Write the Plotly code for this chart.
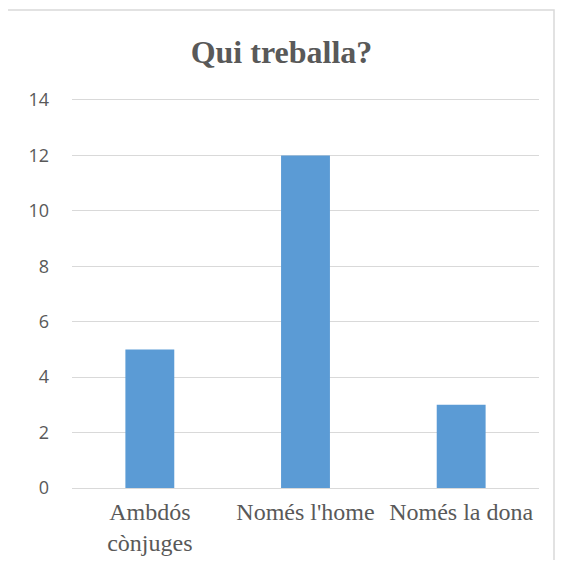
import plotly.graph_objects as go

categories = ["Ambdós<br>cònjuges", "Només l'home", "Només la dona"]
values = [5, 12, 3]
y_ticks = [0, 2, 4, 6, 8, 10, 12, 14]

bar_color = "#5B9BD5"
text_color = "#595959"
grid_color = "#D9D9D9"

# page body adds an 8px margin, so the figure is drawn 8px smaller on each side
W, H = 547, 552
L, R, T, B = 64, 16, 92, 72
pw, ph = W - L - R, H - T - B

fig = go.Figure(
    go.Bar(x=categories, y=values, marker={"color": bar_color, "line": {"width": 0}}, hoverinfo="x+y")
)

fig.update_layout(
    width=W,
    height=H,
    margin={"l": L, "r": R, "t": T, "b": B, "autoexpand": False},
    paper_bgcolor="white",
    plot_bgcolor="white",
    bargap=0.686,
    showlegend=False,
    title={
        "text": "<b>Qui treballa?</b>",
        "font": {"family": "Liberation Serif", "size": 32, "color": text_color},
        "x": 0.5,
        "xanchor": "center",
        "y": 1 - 44 / H,
        "yanchor": "middle",
    },
    xaxis={
        "showgrid": False,
        # mirrored x line gives the top gridline at 14 and the base line at 0
        "showline": True,
        "mirror": True,
        "linecolor": grid_color,
        "linewidth": 1,
        "ticks": "",
        "automargin": False,
        "tickfont": {"family": "Liberation Serif", "size": 24, "color": text_color},
        "ticklabelstandoff": 2,
    },
    yaxis={
        "range": [0, 14],
        "tickvals": y_ticks,
        "showgrid": True,
        "gridcolor": grid_color,
        "gridwidth": 1,
        "zeroline": True,
        "zerolinecolor": grid_color,
        "zerolinewidth": 1,
        "showline": False,
        "ticks": "",
        "automargin": False,
        "tickfont": {"family": "Open Sans", "size": 18, "color": text_color},
        "ticklabelstandoff": 22,
    },
    shapes=[
        {
            "type": "rect",
            "xref": "paper",
            "yref": "paper",
            "x0": (-1 - L) / pw,
            "x1": (W - 1 - L) / pw,
            "y0": (T + ph - H - 20) / ph,
            "y1": (T + ph - 2) / ph,
            "line": {"color": grid_color, "width": 1.5},
            "fillcolor": "rgba(0,0,0,0)",
            "layer": "below",
        }
    ],
)

fig.write_html("out.html")
